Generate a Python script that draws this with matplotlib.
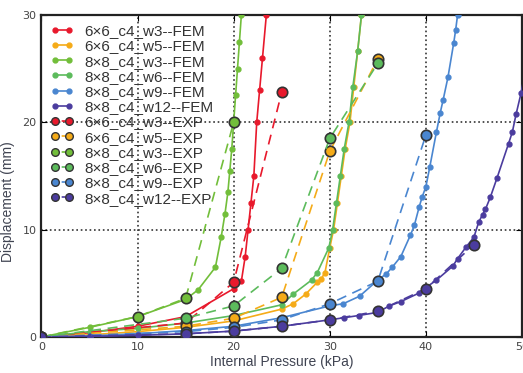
import numpy as np
import matplotlib
matplotlib.use("Agg")
import matplotlib.pyplot as plt
from matplotlib.lines import Line2D

# FEM curves (pressure kPa, displacement mm)
fem_6x6_w3_p = [0, 5, 10, 15, 20, 20.8, 21.2, 21.5, 21.8, 22.1, 22.4, 22.7, 23.0, 23.4]
fem_6x6_w3_d = [0, 0.4, 1.0, 1.9, 4.5, 5.2, 7.5, 10, 12.5, 15, 20, 23, 26, 30]

fem_6x6_w5_p = [0, 5, 10, 15, 20, 25, 26.2, 27.5, 28.7, 29.1, 29.5, 30, 30.4, 30.8,
                31.2, 31.6, 32.1, 32.5, 32.9, 33.3]
fem_6x6_w5_d = [0, 0.2, 0.5, 0.9, 1.5, 2.6, 3.1, 4.0, 5.1, 5.4, 6.0, 8.3, 10, 12.5,
                15, 17.5, 20, 23.3, 26.6, 30]

fem_8x8_w3_p = [0, 5, 10, 15, 16.3, 18.1, 18.7, 19.1, 19.4, 19.6, 19.8, 20.0, 20.2,
                20.4, 20.6, 20.8]
fem_8x8_w3_d = [0, 0.9, 1.9, 3.5, 4.4, 6.5, 9.3, 11.5, 13.5, 15.5, 17.5, 20, 22.5,
                25, 27.5, 30]

fem_8x8_w6_p = [0, 5, 10, 15, 20, 25, 26.2, 28.1, 28.7, 29.9, 30.3, 30.7, 31.1,
                31.5, 32.0, 32.4, 32.9, 33.3]
fem_8x8_w6_d = [0, 0.5, 0.8, 1.3, 2.0, 3.0, 4.0, 5.3, 6.0, 8.3, 10, 12.5, 15,
                17.5, 20, 23.3, 26.6, 30]

fem_8x8_w9_p = [0, 5, 10, 15, 20, 25, 30, 31.4, 33.1, 35, 35.9, 36.5, 37.4, 38.4,
                38.8, 39.3, 39.6, 40.0, 40.4, 41.1, 41.5, 41.8, 42.3, 42.9, 43.1, 43.3]
fem_8x8_w9_d = [0, 0.1, 0.3, 0.6, 1.0, 1.8, 2.9, 3.1, 3.8, 5.3, 5.9, 6.5, 7.5, 9.5,
                10.4, 12.1, 13, 14, 15.8, 19.1, 20.9, 22.1, 24.2, 27.4, 28.6, 30]

fem_8x8_w12_p = [0, 5, 10, 15, 20, 25, 30, 31.5, 33, 35, 36.2, 37.4, 39.3, 40,
                 41.1, 42.8, 43.3, 44.2, 45, 45.5, 45.9, 46.2, 46.7, 47.4, 48.6,
                 49, 49.4, 49.9, 50.4]
fem_8x8_w12_d = [0, 0.05, 0.15, 0.3, 0.55, 1.0, 1.6, 1.8, 2.0, 2.3, 2.9, 3.3, 4.1,
                 4.6, 5.3, 6.6, 7.3, 8.4, 9.3, 10.7, 11.4, 11.9, 13, 14.8, 18,
                 19.1, 20.8, 22.7, 25]

# experimental measurements
exp_6x6_w3_p = [0, 15, 20, 25]
exp_6x6_w3_d = [0, 1.3, 5.1, 22.8]

exp_6x6_w5_p = [0, 15, 20, 25, 30, 35]
exp_6x6_w5_d = [0, 1.0, 1.75, 3.7, 17.3, 25.9]

exp_8x8_w3_p = [0, 10, 15, 20]
exp_8x8_w3_d = [0, 1.9, 3.6, 20]

exp_8x8_w6_p = [0, 15, 20, 25, 30, 35]
exp_8x8_w6_d = [0, 1.75, 2.9, 6.4, 18.5, 25.5]

exp_8x8_w9_p = [0, 15, 20, 25, 30, 35, 40]
exp_8x8_w9_d = [0, 0.5, 0.9, 1.6, 3.1, 5.2, 18.8]

exp_8x8_w12_p = [0, 15, 20, 25, 30, 35, 40, 45]
exp_8x8_w12_d = [0, 0.3, 0.55, 1.0, 1.6, 2.4, 4.5, 8.6]

names = ["6\u00d76_c4_w3", "6\u00d76_c4_w5", "8\u00d78_c4_w3",
         "8\u00d78_c4_w6", "8\u00d78_c4_w9", "8\u00d78_c4_w12"]
colors = ["#e8192c", "#f5ab18", "#72be3a", "#5cbb5c", "#4a86d0", "#4b3c9e"]

fem = [(fem_6x6_w3_p, fem_6x6_w3_d), (fem_6x6_w5_p, fem_6x6_w5_d),
       (fem_8x8_w3_p, fem_8x8_w3_d), (fem_8x8_w6_p, fem_8x8_w6_d),
       (fem_8x8_w9_p, fem_8x8_w9_d), (fem_8x8_w12_p, fem_8x8_w12_d)]
exp = [(exp_6x6_w3_p, exp_6x6_w3_d), (exp_6x6_w5_p, exp_6x6_w5_d),
       (exp_8x8_w3_p, exp_8x8_w3_d), (exp_8x8_w6_p, exp_8x8_w6_d),
       (exp_8x8_w9_p, exp_8x8_w9_d), (exp_8x8_w12_p, exp_8x8_w12_d)]

fig = plt.figure(figsize=(5.23, 3.73), dpi=100)
ax = fig.add_axes([0.0793, 0.0965, 0.9187, 0.8633])

handles = []
labels = []
for name, c, (p, d) in zip(names, colors, fem):
    ax.plot(p, d, '-o', color=c, lw=1.2, ms=3.5, mec=c, zorder=3)
    handles.append(Line2D([], [], color=c, lw=1.2, marker='o', ms=3.5, mec=c))
    labels.append(name + "--FEM")

for name, c, (p, d) in zip(names, colors, exp):
    ax.plot(p, d, '--o', color=c, lw=1.2, ms=7.5, mec='#333333', mew=1.2,
            dashes=(6, 4), zorder=4)
    # smaller circles in the legend keys
    handles.append(Line2D([], [], color=c, lw=1.2, ls='--', dashes=(2, 2),
                          marker='o', ms=5.5, mec='#333333', mew=1.0))
    labels.append(name + "--EXP")

ax.set_xlim(0, 50)
ax.set_ylim(0, 30)
ax.set_xticks([0, 10, 20, 30, 40, 50])
ax.set_yticks([0, 10, 20, 30])
ax.grid(True, color='#333333', linestyle=':', linewidth=1.2)
ax.tick_params(direction='in', top=True, right=True, labelsize=8,
               labelcolor='#444444', length=4)
for s in ax.spines.values():
    s.set_linewidth(1.6)
    s.set_color('#222222')

ax.set_xlabel("Internal Pressure (kPa)", fontsize=10, color='#404452',
              family='Liberation Sans', labelpad=2)
ax.set_ylabel("Displacement (mm)", fontsize=10, color='#404452',
              family='Liberation Sans', labelpad=6)
ax.yaxis.set_label_coords(-0.055, 0.42)

leg = ax.legend(handles, labels, loc='upper left', frameon=False, numpoints=2,
                prop={'family': 'Liberation Sans', 'size': 11},
                labelspacing=0.08, handlelength=1.5, handletextpad=0.7,
                borderaxespad=0.3, borderpad=0.3)
for t in leg.get_texts():
    t.set_color('#333333')

fig.savefig("out.png", dpi=100)
